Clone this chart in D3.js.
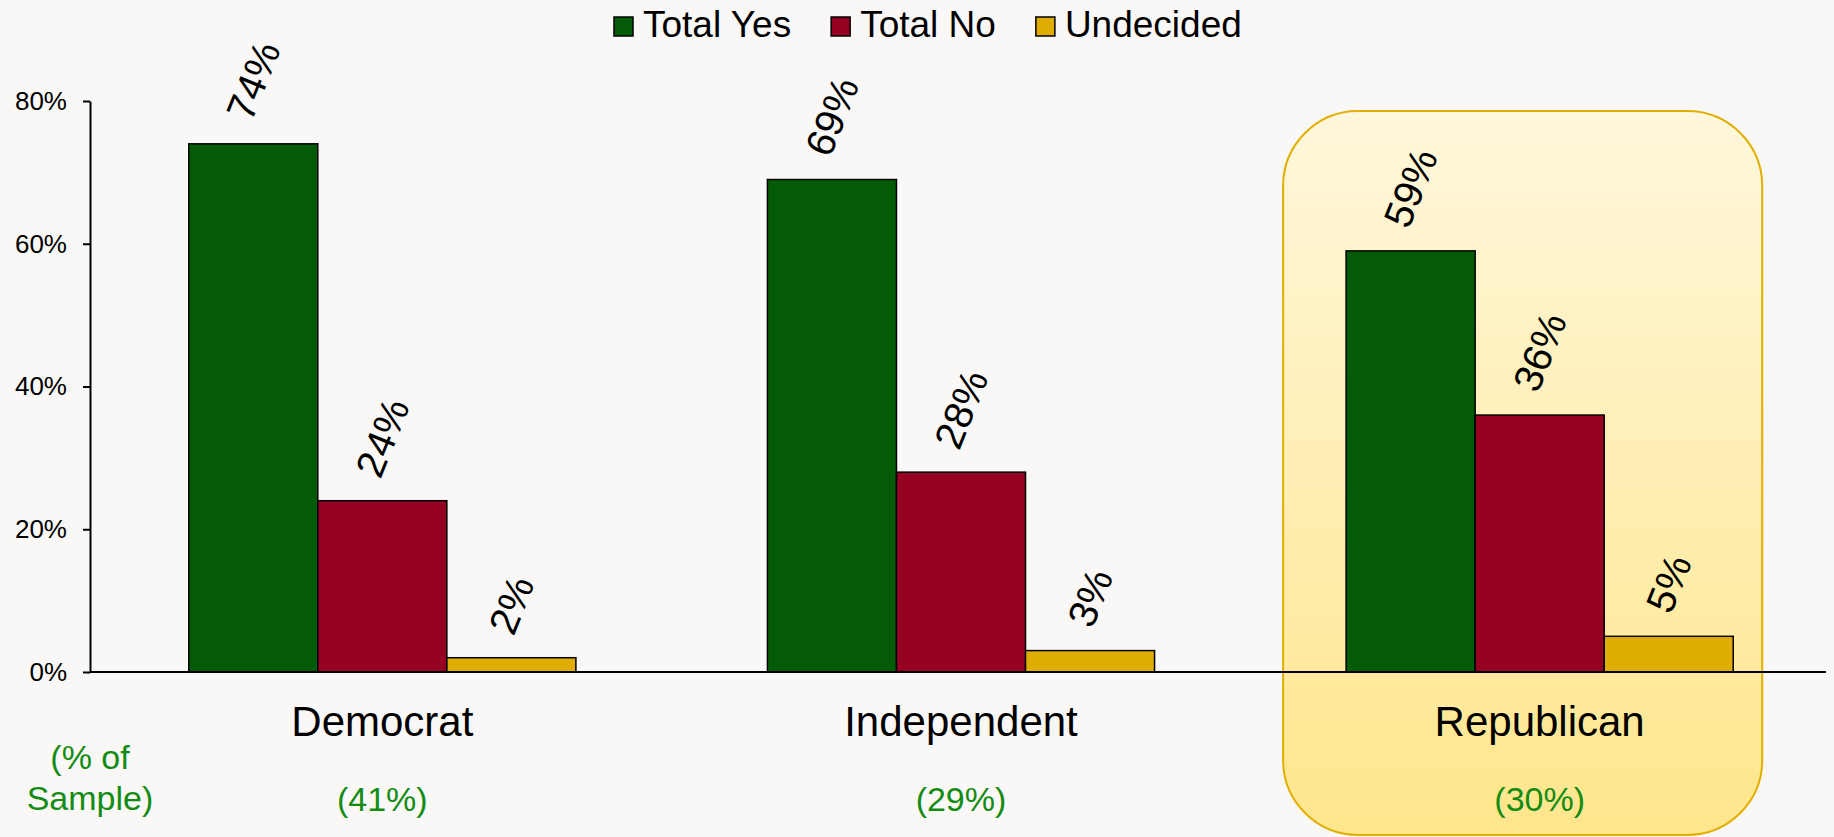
<!DOCTYPE html>
<html lang="en">
<head>
  <meta charset="UTF-8">
  <title>Party breakdown</title>
  <script src="https://cdnjs.cloudflare.com/ajax/libs/d3/7.8.5/d3.min.js"></script>
  <style>
    html, body { margin: 0; padding: 0; background: #f9f8f6; }
    svg { display: block; font-family: "Liberation Sans", Arial, sans-serif; }
    .axis path, .axis line { stroke: #000; stroke-width: 2px; }
    .axis text { font-size: 26px; fill: #000; }
    .bar { stroke: #000; stroke-width: 1.5px; }
    .val { font-size: 40px; fill: #000; }
    .cat { font-size: 42px; fill: #000; text-anchor: middle; }
    .share { font-size: 34px; fill: #148c14; text-anchor: middle; }
    .legend text { font-size: 37px; fill: #000; }
  </style>
</head>
<body>
  <svg width="1834" height="837"></svg>
  <script>
    // data
    var categories = ["Democrat", "Independent", "Republican"]
    var series = ["Total Yes", "Total No", "Undecided"]
    var totalYes = [74, 69, 59]
    var totalNo = [24, 28, 36]
    var undecided = [2, 3, 5]
    var sampleShare = ["(41%)", "(29%)", "(30%)"]
    var yTicks = [0, 20, 40, 60, 80]
    var colors = ["#035b07", "#960023", "#dfac00"]
    var highlight = "Republican"

    var values = [totalYes, totalNo, undecided]
    var rows = []
    categories.forEach(function (c, i) {
      series.forEach(function (s, j) {
        rows.push({ cat: c, series: s, value: values[j][i] })
      })
    })

    var svg = d3.select("svg")
    var plotLeft = 90, plotRight = 1826, plotTop = 101, plotBase = 672

    var x0 = d3.scaleBand().domain(categories).range([plotLeft + 3, plotRight + 3])
      .paddingInner(0.331).paddingOuter(0.1655)
    var x1 = d3.scaleBand().domain(series).range([0, x0.bandwidth()])
    var y = d3.scaleLinear().domain([0, 80]).range([plotBase, plotTop])
    var color = d3.scaleOrdinal().domain(series).range(colors)

    // highlight box behind Republican
    var defs = svg.append("defs")
    var grad = defs.append("linearGradient").attr("id", "hl")
      .attr("x1", 0).attr("y1", 0).attr("x2", 0).attr("y2", 1)
    grad.append("stop").attr("offset", "0%").attr("stop-color", "#fff7dc")
    grad.append("stop").attr("offset", "100%").attr("stop-color", "#ffe68c")

    svg.append("rect")
      .attr("x", x0(highlight) - 63)
      .attr("y", 111)
      .attr("width", x0.bandwidth() + 92)
      .attr("height", 724)
      .attr("rx", 75).attr("ry", 75)
      .attr("fill", "url(#hl)")
      .attr("stroke", "#e2ae00")
      .attr("stroke-width", 2)

    // bars
    svg.append("g").selectAll("rect")
      .data(rows)
      .join("rect")
      .attr("class", "bar")
      .attr("x", d => x0(d.cat) + x1(d.series))
      .attr("y", d => y(d.value))
      .attr("width", x1.bandwidth())
      .attr("height", d => plotBase - y(d.value))
      .attr("fill", d => color(d.series))

    // rotated value labels
    var angle = 68
    var rad = angle * Math.PI / 180
    svg.append("g").selectAll("text")
      .data(rows)
      .join("text")
      .attr("class", "val")
      .attr("text-anchor", "middle")
      .attr("dominant-baseline", "central")
      .text(d => d.value + "%")
      .attr("transform", function (d) {
        var len = this.getComputedTextLength()
        var cx = x0(d.cat) + x1(d.series) + x1.bandwidth() / 2
        var cy = y(d.value) - 26 - (len / 2) * Math.sin(rad)
        return "translate(" + cx + "," + cy + ") rotate(" + (-angle) + ")"
      })

    // y axis
    svg.append("g")
      .attr("class", "axis")
      .attr("transform", "translate(" + plotLeft + ",0)")
      .call(d3.axisLeft(y).tickValues(yTicks).tickSize(7).tickSizeOuter(0)
        .tickPadding(16).tickFormat(d => d + "%"))

    // baseline
    svg.append("line")
      .attr("x1", plotLeft).attr("x2", plotRight)
      .attr("y1", plotBase).attr("y2", plotBase)
      .attr("stroke", "#000").attr("stroke-width", 2)

    // category names and sample share
    svg.append("g").selectAll("text")
      .data(categories)
      .join("text")
      .attr("class", "cat")
      .attr("x", d => x0(d) + x0.bandwidth() / 2)
      .attr("y", 736)
      .text(d => d)

    svg.append("g").selectAll("text")
      .data(sampleShare)
      .join("text")
      .attr("class", "share")
      .attr("x", (d, i) => x0(categories[i]) + x0.bandwidth() / 2)
      .attr("y", 811)
      .text(d => d)

    svg.append("text").attr("class", "share")
      .attr("x", plotLeft).attr("y", 769).text("(% of")
    svg.append("text").attr("class", "share")
      .attr("x", plotLeft).attr("y", 810).text("Sample)")

    // legend
    var lg = svg.append("g").attr("class", "legend")
    var lx = 614
    series.forEach(function (s) {
      lg.append("rect")
        .attr("x", lx).attr("y", 17)
        .attr("width", 19).attr("height", 19)
        .attr("fill", color(s))
        .attr("stroke", "#000").attr("stroke-width", 1.5)
      var t = lg.append("text")
        .attr("x", lx + 29).attr("y", 37)
        .text(s)
      lx += 29 + t.node().getComputedTextLength() + 40
    })
  </script>
</body>
</html>
